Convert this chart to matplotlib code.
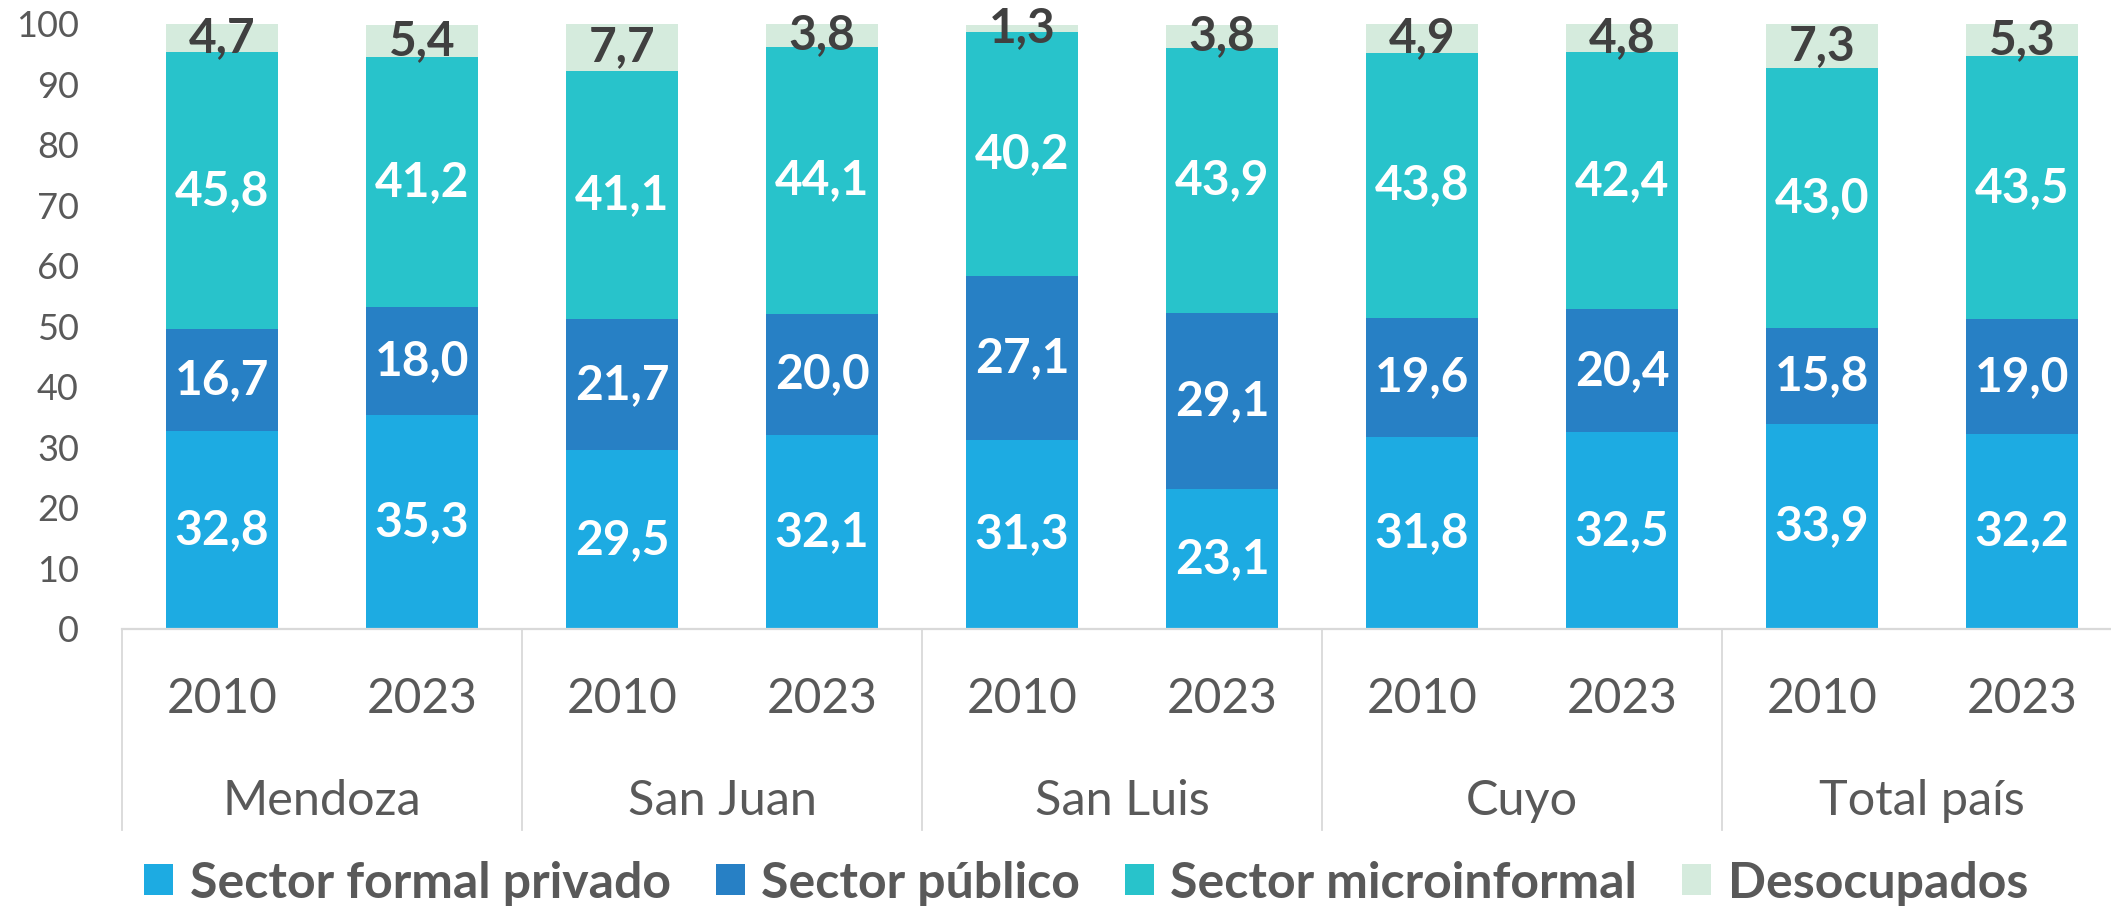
import matplotlib
matplotlib.use('Agg')
import matplotlib.pyplot as plt
from matplotlib.patches import Patch

plt.rcParams['font.family'] = ['Lato', 'DejaVu Sans']

# Data (percent of labour force)
regions = ['Mendoza', 'San Juan', 'San Luis', 'Cuyo', 'Total país']
years = ['2010', '2023']
formal_privado = [32.8, 35.3, 29.5, 32.1, 31.3, 23.1, 31.8, 32.5, 33.9, 32.2]
sector_publico = [16.7, 18.0, 21.7, 20.0, 27.1, 29.1, 19.6, 20.4, 15.8, 19.0]
microinformal = [45.8, 41.2, 41.1, 44.1, 40.2, 43.9, 43.8, 42.4, 43.0, 43.5]
desocupados = [4.7, 5.4, 7.7, 3.8, 1.3, 3.8, 4.9, 4.8, 7.3, 5.3]

series_names = ['Sector formal privado', 'Sector público',
                'Sector microinformal', 'Desocupados']
colours = ['#1DABE2', '#2780C5', '#28C3CB', '#D5EBDD']
label_colours = ['white', 'white', 'white', '#404040']

grey = '#595959'
line_grey = '#D9D9D9'

fig = plt.figure(figsize=(21.11, 9.08), dpi=100)
ax = fig.add_axes([0.0578, 0.3073, 0.9474, 0.6663])

x = list(range(len(formal_privado)))
bottom = [0.0] * len(x)
for vals, col, lcol, name in zip(
        [formal_privado, sector_publico, microinformal, desocupados],
        colours, label_colours, series_names):
    ax.bar(x, vals, width=0.56, bottom=bottom, color=col, label=name)
    for xi, v, b in zip(x, vals, bottom):
        ax.text(xi, b + v / 2, f'{v:.1f}'.replace('.', ','), ha='center',
                va='center', color=lcol, fontsize=34.5, fontweight='bold')
    bottom = [b + v for b, v in zip(bottom, vals)]

ax.set_xlim(-0.5, 9.5)
ax.set_ylim(0, 100)
ax.set_yticks(range(0, 101, 10))
ax.tick_params(axis='y', length=0, pad=31, labelsize=26, labelcolor=grey)
ax.set_xticks([])
for side in ['left', 'right', 'top']:
    ax.spines[side].set_visible(False)
ax.spines['bottom'].set_color(line_grey)
ax.spines['bottom'].set_linewidth(1.6)

# two-level category axis
trans = ax.get_xaxis_transform()
for i, region in enumerate(regions):
    for j, yr in enumerate(years):
        ax.text(2 * i + j, -0.115, yr, transform=trans, ha='center',
                va='center', fontsize=34.5, color=grey)
    ax.text(2 * i + 0.5, -0.285, region, transform=trans, ha='center',
            va='center', fontsize=35, color=grey)
    ax.plot([2 * i - 0.5, 2 * i - 0.5], [0, -0.333], transform=trans,
            color=line_grey, lw=1.3, clip_on=False)

handles = [Patch(facecolor=c, edgecolor='none') for c in colours]
leg = fig.legend(handles, series_names, loc='center', ncol=4,
                 bbox_to_anchor=(0.5145, 0.0275), frameon=False,
                 prop={'size': 36, 'weight': 'bold'},
                 handlelength=0.58, handleheight=0.58, handletextpad=0.33,
                 columnspacing=0.9, borderaxespad=0, borderpad=0)
for t in leg.get_texts():
    t.set_color(grey)

fig.savefig('out.png', dpi=100)
